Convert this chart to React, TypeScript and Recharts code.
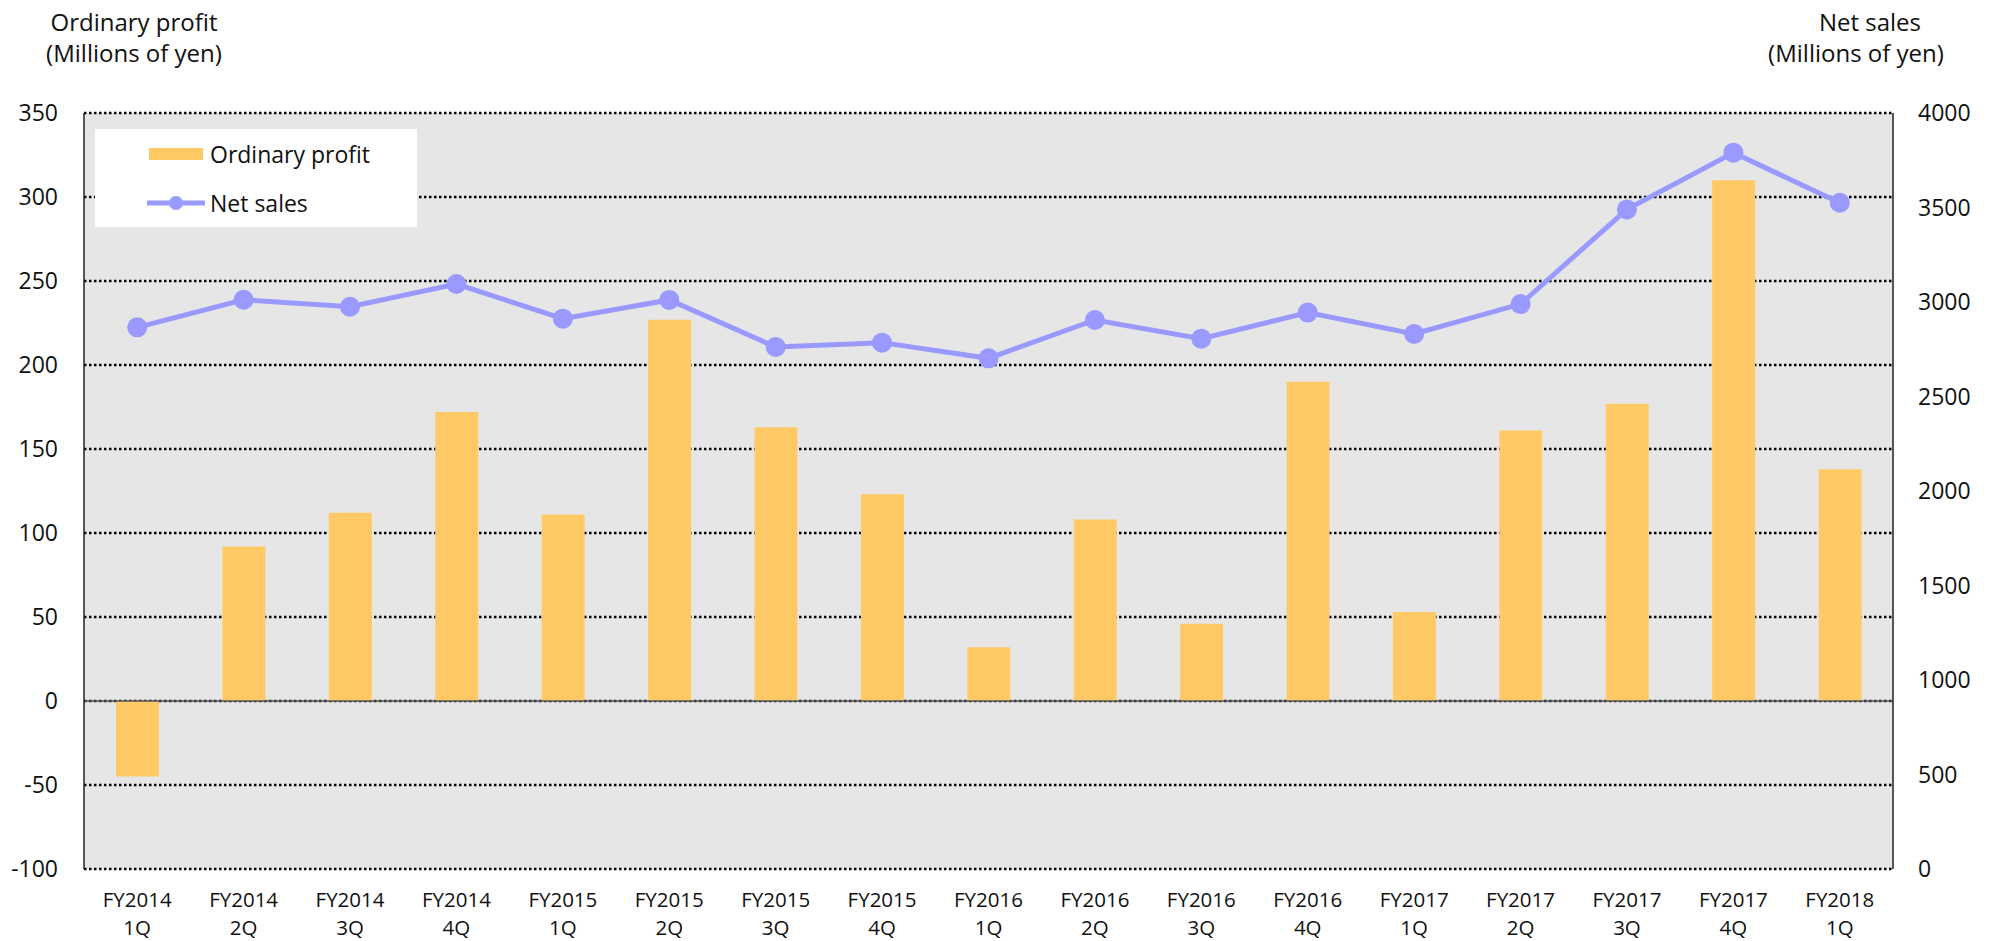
import React from "react"
import {
  ComposedChart,
  Bar,
  Line,
  XAxis,
  YAxis,
  CartesianGrid,
  ReferenceLine,
  Legend,
} from "recharts"

const quarters = [
  "FY2014 1Q", "FY2014 2Q", "FY2014 3Q", "FY2014 4Q",
  "FY2015 1Q", "FY2015 2Q", "FY2015 3Q", "FY2015 4Q",
  "FY2016 1Q", "FY2016 2Q", "FY2016 3Q", "FY2016 4Q",
  "FY2017 1Q", "FY2017 2Q", "FY2017 3Q", "FY2017 4Q",
  "FY2018 1Q",
]
const ordinaryProfit = [
  -45, 92, 112, 172, 111, 227, 163, 123, 32, 108, 46, 190, 53, 161, 177, 310, 138,
]
const netSales = [
  2866, 3012, 2975, 3095, 2912, 3011, 2762, 2785, 2702, 2905, 2806, 2944, 2831,
  2989, 3490, 3790, 3525,
]
const leftTicks = [-100, -50, 0, 50, 100, 150, 200, 250, 300, 350]
const rightTicks = [0, 500, 1000, 1500, 2000, 2500, 3000, 3500, 4000]

const data = quarters.map((q, i) => ({
  quarter: q,
  profit: ordinaryProfit[i],
  sales: netSales[i],
}))

const FONT = "'Open Sans', sans-serif"
const BAR = "#FFCA66"
const LINE = "#9999FF"

// two-line category label, e.g. "FY2014" over "1Q"
const QuarterTick = (props: any) => {
  const { x, y, payload } = props
  const [fy, q] = String(payload.value).split(" ")
  return (
    <g>
      <text x={x} y={y + 37.5} textAnchor='middle' fill='#111' fontSize={20.5} fontFamily={FONT}>
        {fy}
      </text>
      <text x={x} y={y + 66} textAnchor='middle' fill='#111' fontSize={20.5} fontFamily={FONT}>
        {q}
      </text>
    </g>
  )
}

const LegendBox = () => (
  <svg width={322} height={98} style={{ display: "block", background: "#fff" }}>
    <rect x={54} y={19} width={54} height={12} fill={BAR} />
    <text x={115} y={26} dy='0.35em' fontSize={23} fontFamily={FONT} fill='#111'>
      Ordinary profit
    </text>
    <line x1={52} x2={110} y1={74} y2={74} stroke={LINE} strokeWidth={5} />
    <circle cx={81} cy={74} r={7} fill={LINE} />
    <text x={115} y={75} dy='0.35em' fontSize={23} fontFamily={FONT} fill='#111'>
      Net sales
    </text>
  </svg>
)

const titleStyle: React.CSSProperties = {
  position: "absolute",
  width: 260,
  textAlign: "center",
  fontFamily: FONT,
  fontSize: 24,
  lineHeight: "31px",
  color: "#111",
}

export default function App() {
  return (
    <div style={{ position: "absolute", left: 0, top: 0, width: 1989, height: 941, background: "#fff" }}>
      <div style={{ ...titleStyle, left: 134 - 130, top: 6 }}>
        Ordinary profit
        <br />
        (Millions of yen)
      </div>
      <div style={{ ...titleStyle, left: 1870 - 130, top: 6 }}>Net sales</div>
      <div style={{ ...titleStyle, left: 1856 - 130, top: 37 }}>(Millions of yen)</div>
      <ComposedChart
        width={1989}
        height={941}
        data={data}
        margin={{ top: 113, right: 0, bottom: 0, left: 0 }}
        barCategoryGap={0}>
        <CartesianGrid
          yAxisId='left'
          vertical={false}
          stroke='#000'
          strokeWidth={2.5}
          strokeDasharray='2.5 2.5'
          fill='#E6E6E6'
          fillOpacity={1}
        />
        <XAxis
          dataKey='quarter'
          height={72}
          axisLine={false}
          tickLine={false}
          tickSize={0}
          tickMargin={0}
          interval={0}
          tick={<QuarterTick />}
        />
        <YAxis
          yAxisId='left'
          orientation='left'
          width={84}
          domain={[-100, 350]}
          ticks={leftTicks}
          interval={0}
          tickLine={false}
          tickSize={0}
          tickMargin={26}
          axisLine={{ stroke: "#222", strokeWidth: 1.5 }}
          tick={{ fill: "#111", fontSize: 23, fontFamily: FONT }}
        />
        <YAxis
          yAxisId='right'
          orientation='right'
          width={96}
          domain={[0, 4000]}
          ticks={rightTicks}
          interval={0}
          tickLine={false}
          tickSize={0}
          tickMargin={25}
          axisLine={{ stroke: "#222", strokeWidth: 1.5 }}
          tick={{ fill: "#111", fontSize: 23, fontFamily: FONT, textAnchor: "start" }}
        />
        <ReferenceLine yAxisId='left' y={0} stroke='#555' strokeWidth={1.5} />
        <Legend
          layout='vertical'
          align='center'
          verticalAlign='middle'
          content={<LegendBox />}
          wrapperStyle={{ left: 95, top: 129, width: 322, height: 98 }}
        />
        <Bar
          yAxisId='left'
          dataKey='profit'
          name='Ordinary profit'
          fill={BAR}
          barSize={43}
          isAnimationActive={false}
        />
        <Line
          yAxisId='right'
          dataKey='sales'
          name='Net sales'
          stroke={LINE}
          strokeWidth={5}
          dot={{ r: 10, fill: LINE, stroke: "none" }}
          activeDot={false}
          isAnimationActive={false}
        />
      </ComposedChart>
    </div>
  )
}
